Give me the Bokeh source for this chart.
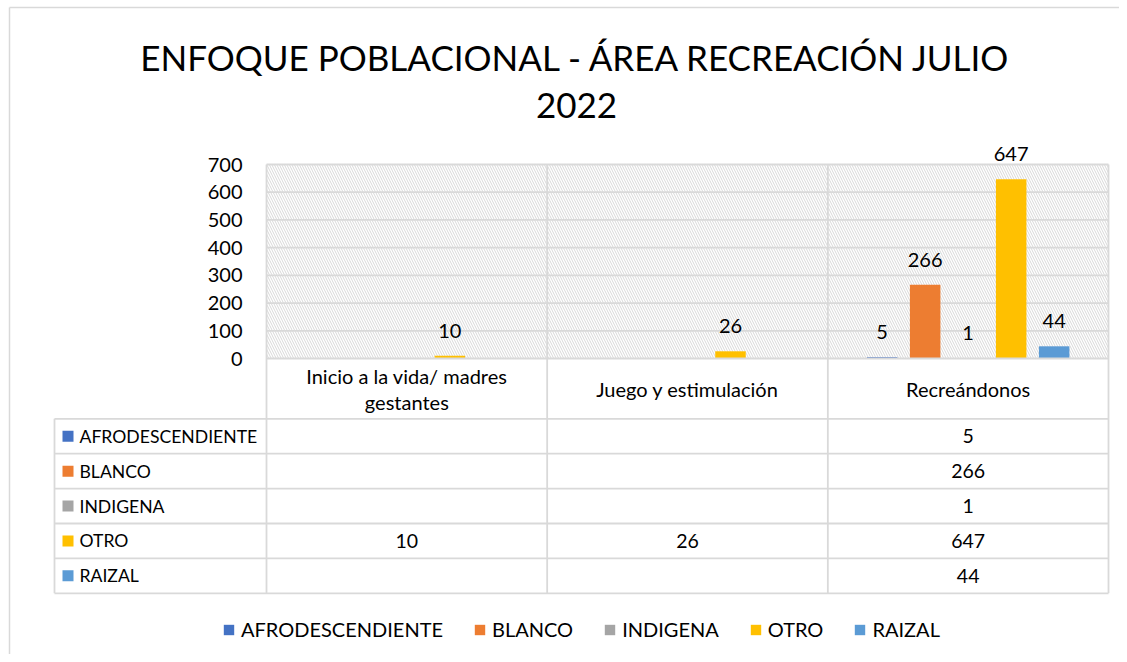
import numpy as np
from bokeh.plotting import figure
from bokeh.models import Range1d, ColumnDataSource, Legend, LegendItem
from bokeh.core.properties import value
from bokeh.embed import file_html
from bokeh.resources import INLINE

# ---------------- data ----------------
title_lines = ["ENFOQUE POBLACIONAL - ÁREA RECREACIÓN JULIO", "2022"]
categories = ["Inicio a la vida/ madres\ngestantes", "Juego y estimulación", "Recreándonos"]
series_names = ["AFRODESCENDIENTE", "BLANCO", "INDIGENA", "OTRO", "RAIZAL"]
afrodescendiente = [None, None, 5]
blanco = [None, None, 266]
indigena = [None, None, 1]
otro = [10, 26, 647]
raizal = [None, None, 44]
series_values = [afrodescendiente, blanco, indigena, otro, raizal]
colors = ["#4472C4", "#ED7D31", "#A5A5A5", "#FFC000", "#5B9BD5"]
y_ticks = [0, 100, 200, 300, 400, 500, 600, 700]
y_max = 700

# ---------------- layout ----------------
W, H = 1119, 654
FONT = "Lato"
GRID = "#d9d9d9"
TXT = "#000000"
LW = 1.8
X0 = 266.0            # canvas x of first category's left edge
CAT_W = 842.0 / 3     # px per category
Y0 = 358.0            # canvas y of value 0
PPU = 194.0 / y_max   # px per value unit
SLOT = 43.0 / CAT_W
BAR_W = 30.5 / CAT_W

def xd(c):  # canvas x -> category units
    return (c - X0) / CAT_W

def yd(c):  # canvas y (from top) -> value units
    return (Y0 - c) / PPU

p = figure(width=W, height=H,
           x_range=Range1d(xd(0), xd(W)), y_range=Range1d(yd(H), yd(0)),
           x_axis_location=None, y_axis_location=None,
           toolbar_location=None, output_backend="svg", min_border=0,
           outline_line_color=None, background_fill_color="white",
           border_fill_color="white")
p.xgrid.visible = False
p.ygrid.visible = False

n_cat = len(categories)
n_ser = len(series_names)

# outer chart border (left + top visible)
p.segment(x0=[xd(9), xd(9)], y0=[yd(H), yd(7)], x1=[xd(9), xd(W)], y1=[yd(7), yd(7)],
          line_color=GRID, line_width=1.5)

# plot area hatch background
p.quad(left=[0], right=[n_cat], bottom=[0], top=[y_max], fill_color="white",
       line_color=None, hatch_pattern="left_diagonal_line", hatch_color="#d8d8d8",
       hatch_scale=5, hatch_weight=1)

# horizontal gridlines (above zero)
gt = [t for t in y_ticks if t > 0]
p.segment(x0=[0] * len(gt), x1=[n_cat] * len(gt), y0=gt, y1=gt,
          line_color=GRID, line_width=LW)

# y tick labels
p.text(x=[xd(242)] * len(y_ticks), y=y_ticks, text=[str(t) for t in y_ticks],
       text_align="right", text_baseline="middle", text_font=value(FONT),
       text_font_size="20px", text_color=TXT)

# table geometry
head_bot = 418.3
row_h = 34.9
row_edges = [head_bot + row_h * k for k in range(n_ser + 1)]
table_bottom = row_edges[-1]
left_col = xd(54)

# category labels in header row
p.text(x=[i + 0.5 for i in range(n_cat)], y=[yd(388.5)] * n_cat, text=categories,
       text_align="center", text_baseline="middle", text_font=value(FONT),
       text_font_size="20px", text_color=TXT, text_line_height=1.12)

# bars, data labels, table values
renderers = []
for k, (name, vals, col) in enumerate(zip(series_names, series_values, colors)):
    idx = [i for i, v in enumerate(vals) if v is not None]
    xs = [i + 0.5 + (k - (n_ser - 1) / 2) * SLOT for i in idx]
    vs = [vals[i] for i in idx]
    src = ColumnDataSource(dict(x=xs, top=vs, lab=[str(v) for v in vs],
                                cx=[i + 0.5 for i in idx]))
    r = p.vbar(x="x", top="top", bottom=0, width=BAR_W, source=src,
               fill_color=col, line_color=None)
    renderers.append(r)
    p.text(x="x", y="top", text="lab", source=src, text_align="center",
           text_baseline="middle", y_offset=-25, text_font=value(FONT),
           text_font_size="20px", text_color=TXT)
    ry = yd((row_edges[k] + row_edges[k + 1]) / 2)
    tsrc = ColumnDataSource(dict(x=src.data["cx"], y=[ry] * len(idx), lab=src.data["lab"]))
    p.text(x="x", y="y", text="lab", source=tsrc, text_align="center",
           text_baseline="middle", text_font=value(FONT), text_font_size="19.5px",
           text_color=TXT)
    # left column key + name
    p.rect(x=[xd(67.5)], y=[ry], width=11 / CAT_W, height=11 / PPU,
           fill_color=col, line_color=None)
    p.text(x=[xd(79)], y=[ry], text=[name], text_align="left", text_baseline="middle",
           text_font=value(FONT), text_font_size="17.6px", text_color=TXT)

# table lines (drawn over the bar bases)
vx = list(range(n_cat + 1))
p.segment(x0=vx, x1=vx, y0=[y_max] * len(vx), y1=[yd(table_bottom)] * len(vx),
          line_color=GRID, line_width=LW)
p.segment(x0=[left_col], x1=[left_col], y0=[yd(head_bot)], y1=[yd(table_bottom)],
          line_color=GRID, line_width=LW)
p.segment(x0=[0], x1=[n_cat], y0=[0], y1=[0], line_color=GRID, line_width=LW)
p.segment(x0=[left_col] * len(row_edges), x1=[n_cat] * len(row_edges),
          y0=[yd(r) for r in row_edges], y1=[yd(r) for r in row_edges],
          line_color=GRID, line_width=LW)

# title
p.text(x=[xd(576)] * 2, y=[yd(56), yd(105)], text=title_lines, text_align="center",
       text_baseline="middle", text_font=value(FONT), text_font_size="35px",
       text_color=TXT)

# legend
legend = Legend(items=[LegendItem(label=n, renderers=[r]) for n, r in zip(series_names, renderers)],
                orientation="horizontal", location=(222, 13), glyph_width=13, glyph_height=13,
                label_standoff=6, spacing=30, padding=0, margin=0,
                border_line_alpha=0, background_fill_alpha=0,
                label_text_font=FONT, label_text_font_size="20px", label_text_color=TXT)
p.add_layout(legend)

open("out.html", "w").write(file_html(p, INLINE))
